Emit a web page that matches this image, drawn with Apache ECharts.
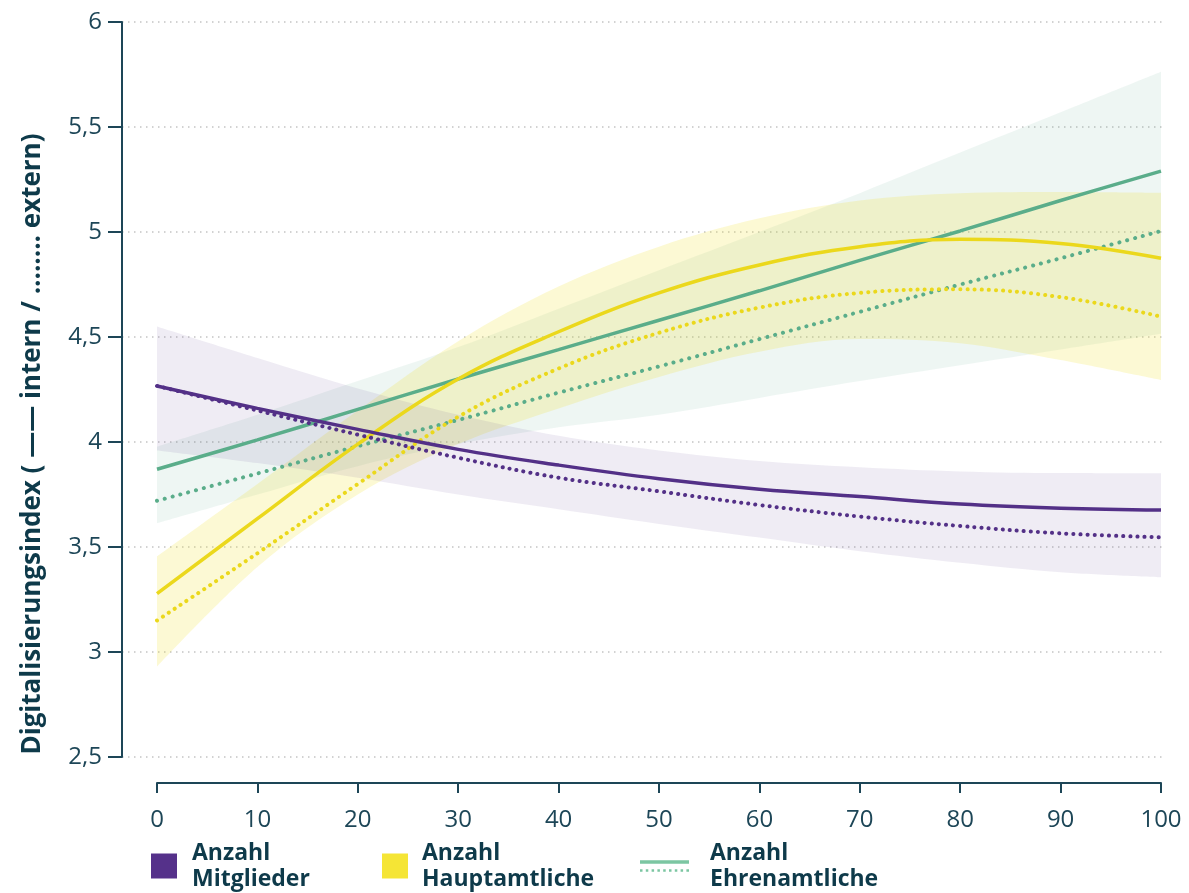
<!DOCTYPE html>
<html>
<head>
<meta charset="utf-8">
<script src="https://cdn.jsdelivr.net/npm/echarts@6/dist/echarts.min.js"></script>
<style>
  html, body { margin: 0; padding: 0; background: #fff; }
  #chart { width: 1189px; height: 893px; }
</style>
</head>
<body>
<div id="chart"></div>
<script>
// x positions (Anzahl, 0..100)
const xValues = ['0', '10', '20', '30', '40', '50', '60', '70', '80', '90', '100']

// Mitglieder
const mitgliederIntern = [4.267, 4.16, 4.06, 3.965, 3.89, 3.825, 3.775, 3.74, 3.705, 3.685, 3.676]
const mitgliederExtern = [4.267, 4.15, 4.035, 3.925, 3.83, 3.765, 3.70, 3.645, 3.60, 3.565, 3.546]
const mitgliederUpper = [4.55, 4.40, 4.255, 4.13, 4.03, 3.96, 3.91, 3.88, 3.86, 3.852, 3.851]
const mitgliederLower = [3.96, 3.90, 3.83, 3.75, 3.68, 3.61, 3.545, 3.48, 3.425, 3.38, 3.356]

// Hauptamtliche
const hauptIntern = [3.278, 3.635, 3.99, 4.30, 4.525, 4.71, 4.843, 4.93, 4.965, 4.945, 4.875]
const hauptExtern = [3.15, 3.47, 3.80, 4.12, 4.35, 4.52, 4.64, 4.71, 4.727, 4.69, 4.597]
const hauptUpper = [3.455, 3.80, 4.15, 4.48, 4.74, 4.93, 5.065, 5.15, 5.185, 5.19, 5.186]
const hauptLower = [2.93, 3.405, 3.75, 3.99, 4.16, 4.31, 4.43, 4.49, 4.47, 4.39, 4.295]

// Ehrenamtliche
const ehrenIntern = [3.87, 4.01, 4.155, 4.30, 4.44, 4.58, 4.72, 4.865, 5.005, 5.15, 5.29]
const ehrenExtern = [3.72, 3.85, 3.98, 4.105, 4.235, 4.36, 4.49, 4.62, 4.75, 4.875, 5.005]
const ehrenUpper = [3.978, 4.13, 4.29, 4.452, 4.635, 4.818, 5.00, 5.185, 5.378, 5.57, 5.763]
const ehrenLower = [3.613, 3.75, 3.885, 3.99, 4.07, 4.13, 4.21, 4.29, 4.365, 4.44, 4.515]

const textColor = '#0e3a4a'
const axisColor = '#1d4657'
const purple = '#533087'
const yellow = '#ebd81c'
const green = '#5aad8a'

function band(id, lower, upper, color) {
  return [
    {
      name: id + '-lower', type: 'line', xAxisIndex: 1, yAxisIndex: 1,
      data: lower, stack: id, smooth: 0.35, symbol: 'none', silent: true,
      lineStyle: { opacity: 0 }
    },
    {
      name: id + '-band', type: 'line', xAxisIndex: 1, yAxisIndex: 1,
      data: upper.map((u, i) => +(u - lower[i]).toFixed(4)), stack: id, smooth: 0.35, symbol: 'none', silent: true,
      lineStyle: { opacity: 0 }, areaStyle: { color: color, opacity: 1 }
    }
  ]
}

function line(name, ys, color, dotted, gap) {
  return {
    name: name, type: 'line', xAxisIndex: 1, yAxisIndex: 1,
    data: ys, smooth: 0.4, symbol: 'none', silent: true,
    itemStyle: { color: color },
    lineStyle: dotted
      ? { color: color, width: 4, type: [0.1, gap], cap: 'round' }
      : { color: color, width: 3.5 }
  }
}

const legendText = {
  fontFamily: 'Open Sans', fontSize: 23, fontWeight: 'bold', color: textColor, lineHeight: 26
}

const greenIcon = 'path://M0,0L49,0L49,3.5L0,3.5Z' +
  'M0,9h2.5v2.5h-2.5Z M5.8,9h2.5v2.5h-2.5Z M11.6,9h2.5v2.5h-2.5Z M17.4,9h2.5v2.5h-2.5Z' +
  'M23.2,9h2.5v2.5h-2.5Z M29,9h2.5v2.5h-2.5Z M34.8,9h2.5v2.5h-2.5Z M40.6,9h2.5v2.5h-2.5Z M46.4,9h2.6v2.5h-2.6Z'

const chart = echarts.init(document.getElementById('chart'))

const option = {
  animation: false,
  backgroundColor: '#fff',
  grid: [
    { left: 122, right: 24, top: 22, bottom: 136 },
    { left: 157, right: 28, top: 22, bottom: 136 }
  ],
  xAxis: [
    { gridIndex: 0, type: 'value', min: 0, max: 1, show: false },
    {
      gridIndex: 1, type: 'category', data: xValues, boundaryGap: false, offset: 26,
      axisLine: { show: true, lineStyle: { color: axisColor, width: 2 } },
      axisTick: { show: true, length: 10, alignWithLabel: true, lineStyle: { color: axisColor, width: 2 } },
      axisLabel: { margin: 25, fontFamily: 'Open Sans', fontSize: 24, color: axisColor, interval: 0 },
      splitLine: { show: false }
    }
  ],
  yAxis: [
    {
      gridIndex: 0, type: 'value', min: 2.5, max: 6, interval: 0.5,
      axisLine: { show: true, lineStyle: { color: axisColor, width: 2 } },
      axisTick: { show: true, length: 14, lineStyle: { color: axisColor, width: 2 } },
      axisLabel: {
        margin: 20, fontFamily: 'Open Sans', fontSize: 24, color: axisColor,
        formatter: (v) => String(v).replace('.', ',')
      },
      splitLine: { show: true, lineStyle: { color: '#c4c4c4', width: 1.5, type: [1.5, 4.5] } }
    },
    { gridIndex: 1, type: 'value', min: 2.5, max: 6, show: false }
  ],
  legend: [
    {
      left: 151, top: 840, padding: 0, itemWidth: 26, itemHeight: 25, selectedMode: false,
      textStyle: Object.assign({ padding: [0, 0, 0, 10] }, legendText),
      data: [{ name: 'Anzahl Mitglieder', icon: 'rect', itemStyle: { color: '#55318a', borderWidth: 0 } }],
      formatter: () => 'Anzahl\nMitglieder'
    },
    {
      left: 382, top: 840, padding: 0, itemWidth: 26, itemHeight: 25, selectedMode: false,
      textStyle: Object.assign({ padding: [0, 0, 0, 9] }, legendText),
      data: [{ name: 'Anzahl Hauptamtliche', icon: 'rect', itemStyle: { color: '#f5e535', borderWidth: 0 } }],
      formatter: () => 'Anzahl\nHauptamtliche'
    },
    {
      left: 640, top: 840, padding: 0, itemWidth: 49, itemHeight: 12, selectedMode: false,
      textStyle: Object.assign({ padding: [0, 0, 0, 16] }, legendText),
      data: [{ name: 'Anzahl Ehrenamtliche', icon: greenIcon, itemStyle: { color: '#7cc6a2', borderWidth: 0 } }],
      formatter: () => 'Anzahl\nEhrenamtliche'
    }
  ],
  graphic: [
    {
      type: 'text', x: 33, y: 444, rotation: Math.PI / 2,
      style: {
        text: 'Digitalisierungsindex ( —— intern / ........ extern)',
        fontFamily: 'Open Sans', fontSize: 26, fontWeight: 'bold', fill: textColor,
        textAlign: 'center', textVerticalAlign: 'middle'
      }
    }
  ],
  series: [
    ...band('ehren', ehrenLower, ehrenUpper, 'rgba(90,170,140,0.10)'),
    ...band('haupt', hauptLower, hauptUpper, 'rgba(242,225,40,0.20)'),
    ...band('mitglieder', mitgliederLower, mitgliederUpper, 'rgba(83,48,135,0.09)'),
    line('Anzahl Ehrenamtliche', ehrenIntern, green, false),
    line('Anzahl Ehrenamtliche', ehrenExtern, green, true, 8),
    line('Anzahl Hauptamtliche', hauptIntern, yellow, false),
    line('Anzahl Hauptamtliche', hauptExtern, yellow, true, 7),
    line('Anzahl Mitglieder', mitgliederIntern, purple, false),
    line('Anzahl Mitglieder', mitgliederExtern, purple, true, 7)
  ]
}

chart.setOption(option)
window.addEventListener('resize', () => {
  chart.resize()
})
</script>
</body>
</html>
